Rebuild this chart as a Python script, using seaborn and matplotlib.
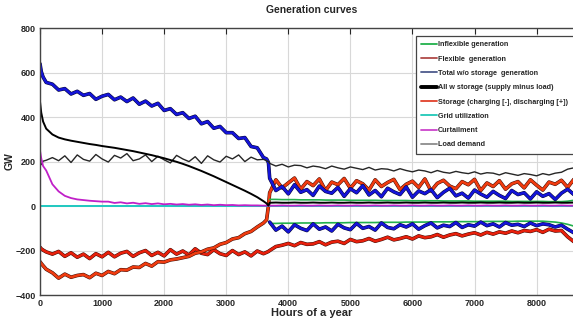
import matplotlib
matplotlib.use("Agg")
import matplotlib.pyplot as plt
import matplotlib.patheffects as pe
from matplotlib.lines import Line2D
import seaborn as sns

# hour grids (left part before the storage switch, right part after it)
left_hours = [0, 20, 50] + list(range(100, 3700, 100)) + [3650, 3680]
right_hours = list(range(3700, 8800, 100))

# Total w/o storage generation (blue)
blue_left = [640, 605, 580,
             556, 548, 522, 528, 504, 516, 498, 506, 480, 494,
             502, 478, 490, 470, 486, 458, 472, 450, 462, 430,
             438, 412, 420, 394, 404, 370, 380, 350, 358, 330,
             330, 304, 308, 268, 262, 218,
             212, 196]
blue_pos_right = [125, 70, 88, 55, 96, 62, 74, 48, 90, 66,
                  58, 84, 44, 78, 60, 92, 50, 70, 42, 80,
                  64, 52, 86, 40, 68, 56, 74, 38, 62, 80,
                  46, 58, 36, 72, 54, 40, 66, 48, 34, 70,
                  52, 60, 32, 64, 44, 56, 30, 58, 76, 52,
                  84]
blue_neg_right = [-72, -108, -90, -116, -84, -100, -110, -80, -104, -94,
                  -112, -82, -98, -106, -78, -100, -92, -108, -76, -96,
                  -102, -84, -94, -80, -104, -88, -76, -98, -86, -92,
                  -74, -96, -84, -90, -72, -88, -80, -94, -74, -86,
                  -82, -92, -76, -88, -80, -84, -94, -86, -104, -120,
                  -98]

# All w storage (supply minus load)
black_left = [470, 420, 380,
              348, 322, 308, 300, 294, 289, 284, 279, 275, 270,
              266, 262, 257, 252, 247, 241, 235, 229, 222, 215,
              207, 199, 190, 180, 169, 158, 146, 134, 121, 108,
              95, 82, 69, 55, 40, 22,
              12, 2]
black_right = [15, 16, 15, 15, 16, 15, 15, 16, 15, 15,
               16, 15, 15, 16, 15, 15, 16, 15, 15, 16,
               15, 15, 16, 15, 15, 16, 15, 15, 16, 15,
               15, 16, 15, 15, 16, 15, 15, 16, 15, 15,
               16, 15, 15, 16, 15, 15, 16, 15, 15, 16,
               15]

# Load demand
load_left = [195, 186, 202,
             206, 218, 204, 226, 196, 230, 210, 202, 232, 212,
             198, 228, 216, 236, 204, 212, 230, 200, 224, 208,
             194, 228, 212, 200, 222, 192, 226, 208, 198, 224,
             212, 230, 200, 220, 208, 210,
             204, 200]
load_right = [192, 180, 188, 176, 184, 182, 172, 180, 176, 168,
              180, 172, 166, 176, 170, 164, 174, 162, 168, 166,
              158, 168, 160, 154, 162, 158, 150, 160, 152, 148,
              156, 150, 146, 154, 144, 150, 148, 140, 150, 144,
              138, 146, 142, 136, 146, 140, 148, 152, 166, 172,
              160]

# Curtailment
curt_left = [250, 215, 180,
             160, 98, 66, 46, 36, 30, 27, 24, 22, 20,
             20, 14, 17, 12, 15, 10, 13, 9, 12, 8,
             10, 7, 9, 6, 8, 5, 7, 4, 6, 4,
             5, 3, 4, 3, 3, 2,
             2, 2]
curt_right = [2, 2, 3, 2, 2, 3, 2, 2, 3, 2,
              2, 3, 2, 2, 3, 2, 2, 3, 2, 2,
              3, 2, 2, 3, 2, 2, 3, 2, 2, 3,
              2, 2, 3, 2, 2, 3, 2, 2, 3, 2,
              2, 3, 2, 2, 3, 2, 2, 3, 2, 2,
              3]

# Storage (charging [-], discharging [+])
stor_upper_left = [-185, -192, -198,
                   -206, -216, -204, -226, -210, -230, -216, -236, -214, -228,
                   -208, -228, -212, -204, -226, -210, -200, -222, -208, -224,
                   -196, -216, -202, -220, -192, -212, -218, -196, -214, -222,
                   -200, -218, -206, -224, -202, -214,
                   -208, -204]
stor_neg_right = [-200, -182, -176, -168, -178, -164, -172, -170, -160, -174,
                  -162, -158, -168, -150, -160, -156, -146, -158, -150, -140,
                  -152, -146, -138, -148, -134, -142, -138, -128, -140, -130,
                  -124, -134, -126, -120, -130, -118, -126, -116, -122, -112,
                  -120, -110, -114, -106, -118, -104, -112, -110, -138, -160,
                  -140]
stor_lower_left = [-250, -258, -268,
                   -284, -300, -324, -306, -320, -312, -308, -322, -302, -312,
                   -294, -304, -286, -288, -274, -276, -258, -270, -250, -252,
                   -242, -238, -232, -226, -212, -206, -194, -188, -172, -164,
                   -148, -142, -124, -114, -94, -76,
                   -62, 0]
stor_pos_right = [60, 118, 82, 104, 126, 76, 110, 92, 122, 70,
                  108, 96, 124, 80, 114, 100, 72, 118, 88, 106,
                  120, 74, 98, 112, 84, 122, 68, 102, 116, 90,
                  78, 110, 96, 120, 70, 104, 88, 114, 76, 100,
                  110, 82, 118, 94, 72, 108, 98, 116, 84, 120,
                  96]

# Inflexible generation (mostly hidden under the blue bands)
infl_pos_right = [30, 30, 29, 29, 29, 28, 28, 28, 28, 27,
                  27, 27, 27, 26, 26, 26, 26, 26, 25, 25,
                  25, 25, 25, 24, 24, 24, 24, 24, 23, 23,
                  23, 23, 23, 22, 22, 22, 22, 22, 22, 21,
                  21, 21, 21, 21, 21, 20, 20, 20, 22, 26,
                  28]
infl_neg_right = [-78, -78, -77, -77, -77, -76, -76, -76, -76, -75,
                  -75, -75, -75, -74, -74, -74, -74, -74, -73, -73,
                  -73, -73, -72, -72, -72, -72, -71, -71, -71, -71,
                  -70, -70, -70, -70, -70, -69, -69, -69, -69, -69,
                  -68, -68, -68, -68, -68, -70, -72, -76, -82, -90,
                  -88]

legend_labels = ["Inflexible generation", "Flexible  generation",
                 "Total w/o storage  generation", "All w storage (supply minus load)",
                 "Storage (charging [-], discharging [+])", "Grid utilization",
                 "Curtailment", "Load demand"]
legend_colors = ["#22b14c", "#b04a48", "#4d5b8c", "#000000",
                 "#e0402a", "#20c8b8", "#cc44cc", "#8c8c8c"]

all_hours = left_hours + right_hours

sns.set_style("white")
plt.rcParams["font.family"] = ["Liberation Sans", "DejaVu Sans"]
plt.rcParams["font.weight"] = "bold"

fig = plt.figure(figsize=(5.73, 3.2), dpi=100)
ax = fig.add_axes([0.0698, 0.078, 0.949, 0.834])

red_edge = [pe.Stroke(linewidth=2.6, foreground="#3a0a05"), pe.Normal()]
blue_edge = [pe.Stroke(linewidth=2.6, foreground="#05052a"), pe.Normal()]

# storage
sns.lineplot(x=left_hours + right_hours, y=stor_upper_left + stor_neg_right,
             ax=ax, color="#e8200c", linewidth=1.9, legend=False)
ax.lines[-1].set_path_effects(red_edge)
sns.lineplot(x=left_hours + right_hours, y=stor_lower_left + stor_pos_right,
             ax=ax, color="#f03c10", linewidth=1.9, legend=False)
ax.lines[-1].set_path_effects(red_edge)

# inflexible generation
sns.lineplot(x=right_hours, y=infl_pos_right, ax=ax, color="#22b14c", linewidth=1.2, legend=False)
sns.lineplot(x=right_hours, y=infl_neg_right, ax=ax, color="#22b14c", linewidth=1.2, legend=False)

# total without storage
sns.lineplot(x=left_hours + right_hours, y=blue_left + blue_pos_right,
             ax=ax, color="#1414d8", linewidth=1.9, legend=False)
ax.lines[-1].set_path_effects(blue_edge)
sns.lineplot(x=right_hours, y=blue_neg_right, ax=ax, color="#1414d8", linewidth=1.9, legend=False)
ax.lines[-1].set_path_effects(blue_edge)

# load demand
sns.lineplot(x=all_hours, y=load_left + load_right, ax=ax, color="#262626", linewidth=1.0, legend=False)

# grid utilization and curtailment
sns.lineplot(x=all_hours, y=[0] * len(all_hours), ax=ax, color="#20c8c0", linewidth=1.4, legend=False)
sns.lineplot(x=all_hours, y=curt_left + curt_right, ax=ax, color="#c020c8", linewidth=1.3, legend=False)

# all with storage
sns.lineplot(x=all_hours, y=black_left + black_right, ax=ax, color="#000000", linewidth=1.4, legend=False)

ax.set_xlim(0, 8760)
ax.set_ylim(-400, 800)
ax.set_xticks(range(0, 9000, 1000))
ax.set_yticks(range(-400, 1000, 200))
ax.grid(True, color="#d8d8d8", linewidth=0.8)
ax.tick_params(direction="in", top=True, length=4, labelsize=6.5, pad=3)
for s in ax.spines.values():
    s.set_color("#444444")
    s.set_linewidth(1.0)

ax.set_title("Generation curves", fontsize=7.5, fontweight="bold", pad=11)
ax.set_xlabel("Hours of a year", fontsize=8, fontweight="bold", labelpad=0)
ax.set_ylabel("GW", fontsize=7.5, fontweight="bold", labelpad=1)

handles = [Line2D([0], [0], color=c, linewidth=(2.8 if lab.startswith("All") else 1.3))
           for c, lab in zip(legend_colors, legend_labels)]
leg = ax.legend(handles, legend_labels, loc="upper left", bbox_to_anchor=(0.719, 0.9),
                bbox_transform=fig.transFigure, fontsize=5.2, frameon=True, fancybox=False,
                framealpha=1, edgecolor="#444444", handlelength=2.2, handletextpad=0.1,
                labelspacing=1.0, borderpad=0.8)
leg.get_frame().set_linewidth(0.9)

fig.savefig("out.png", dpi=100)
